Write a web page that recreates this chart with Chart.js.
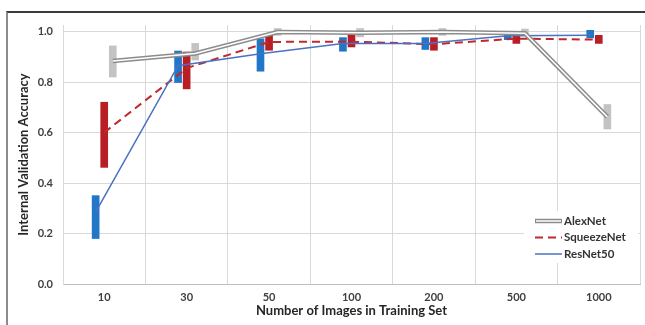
<!DOCTYPE html>
<html>
<head>
<meta charset="utf-8">
<script src="https://cdn.jsdelivr.net/npm/chart.js@4/dist/chart.umd.min.js"></script>
<style>
  html, body { margin: 0; padding: 0; background: #ffffff; overflow: hidden; }
  #wrap { position: relative; width: 645px; height: 325px; }
  #frame { position: absolute; left: 6px; top: 11px; width: 660px; height: 340px;
           border-top: 2px solid #3a3a3a; border-left: 2px solid #8c8c8c; }
  canvas { position: absolute; left: 0; top: 0; }
</style>
</head>
<body>
<div id="wrap">
  <div id="frame"></div>
  <canvas id="c" width="645" height="325"></canvas>
</div>
<script>
const categories = ['10', '30', '50', '100', '200', '500', '1000'];

const resnetMean = [0.285, 0.865, 0.912, 0.953, 0.953, 0.983, 0.985];
const resnetLow  = [0.180, 0.798, 0.843, 0.922, 0.929, 0.968, 0.975];
const resnetHigh = [0.350, 0.923, 0.971, 0.976, 0.976, 0.998, 1.005];

const squeezeMean = [0.600, 0.855, 0.959, 0.960, 0.950, 0.972, 0.968];
const squeezeLow  = [0.462, 0.773, 0.926, 0.939, 0.926, 0.953, 0.953];
const squeezeHigh = [0.720, 0.919, 0.990, 0.988, 0.976, 0.989, 0.985];

const alexMean = [0.883, 0.913, 0.998, 0.995, 0.998, 0.993, 0.662];
const alexLow  = [0.820, 0.887, 0.985, 0.979, 0.985, 0.985, 0.614];
const alexHigh = [0.943, 0.953, 1.012, 1.012, 1.012, 1.010, 0.711];

const yTicks = [0, 0.2, 0.4, 0.6, 0.8, 1.0];
const legendNames = ['AlexNet', 'SqueezeNet', 'ResNet50'];

// series slot offset within a category (in category units)
const SLOT = 0.104;

const ranges = (lo, hi, k) => lo.map((v, i) => ({ x: i + (k - 1) * SLOT, y: [v, hi[i]] }));
const pts = (arr, k) => arr.map((v, i) => ({ x: i + (k - 1) * SLOT, y: v }));

const FONT = "Lato, 'Open Sans', 'Liberation Sans', sans-serif";

const legendPlugin = {
  id: 'customLegend',
  afterDraw(chart) {
    const ctx = chart.ctx;
    ctx.save();
    const bx = 524, by = 211, bw = 114, bh = 52;
    ctx.fillStyle = '#ffffff';
    ctx.fillRect(bx, by, bw, bh);
    const rows = [221, 237.5, 254];
    const x0 = 535, x1 = 562;
    ctx.lineCap = 'butt';
    ctx.strokeStyle = '#8c8c8c'; ctx.lineWidth = 4.5;
    ctx.beginPath(); ctx.moveTo(x0, rows[0]); ctx.lineTo(x1, rows[0]); ctx.stroke();
    ctx.strokeStyle = '#ffffff'; ctx.lineWidth = 1.5;
    ctx.beginPath(); ctx.moveTo(x0 + 1, rows[0]); ctx.lineTo(x1 - 1, rows[0]); ctx.stroke();
    ctx.strokeStyle = '#c0282e'; ctx.lineWidth = 2; ctx.setLineDash([8, 5]);
    ctx.beginPath(); ctx.moveTo(x0, rows[1]); ctx.lineTo(x1, rows[1]); ctx.stroke();
    ctx.setLineDash([]);
    ctx.strokeStyle = '#4a72c0'; ctx.lineWidth = 1.5;
    ctx.beginPath(); ctx.moveTo(x0, rows[2]); ctx.lineTo(x1, rows[2]); ctx.stroke();
    ctx.fillStyle = '#333333';
    ctx.font = "bold 11.5px " + FONT;
    ctx.textBaseline = 'middle';
    ctx.textAlign = 'left';
    legendNames.forEach((n, i) => ctx.fillText(n, x1 + 2, rows[i]));
    ctx.restore();
  }
};

const barCommon = { type: 'bar', xAxisID: 'xl', grouped: false, barThickness: 7, borderWidth: 0, order: 2 };
const lineCommon = { type: 'line', xAxisID: 'xl', pointRadius: 0, tension: 0 };

new Chart(document.getElementById('c'), {
  type: 'bar',
  data: {
    labels: categories,
    datasets: [
      Object.assign({ label: 'ResNet50 range', data: ranges(resnetLow, resnetHigh, 0), backgroundColor: '#2176c7' }, barCommon),
      Object.assign({ label: 'SqueezeNet range', data: ranges(squeezeLow, squeezeHigh, 1), backgroundColor: '#b81e24' }, barCommon),
      Object.assign({ label: 'AlexNet range', data: ranges(alexLow, alexHigh, 2), backgroundColor: '#c3c3c3' }, barCommon),
      Object.assign({ label: 'ResNet50', data: pts(resnetMean, 0), borderColor: '#4a72c0', borderWidth: 1.5, order: 1 }, lineCommon),
      Object.assign({ label: 'SqueezeNet', data: pts(squeezeMean, 1), borderColor: '#c0282e', borderWidth: 2, borderDash: [8, 5], order: 1 }, lineCommon),
      Object.assign({ label: 'AlexNet', data: pts(alexMean, 2), borderColor: '#8c8c8c', borderWidth: 4.5, order: 0.5 }, lineCommon),
      Object.assign({ label: 'AlexNet inner', data: pts(alexMean, 2), borderColor: '#ffffff', borderWidth: 1.5, order: 0 }, lineCommon)
    ]
  },
  options: {
    responsive: false,
    animation: false,
    devicePixelRatio: 1,
    layout: { padding: { left: 12, top: 25, right: 5, bottom: 0 } },
    plugins: { legend: { display: false }, tooltip: { enabled: false } },
    scales: {
      x: {
        type: 'category',
        offset: true,
        grid: { offset: true, color: '#d9d9d9', drawTicks: false, lineWidth: 1 },
        border: { color: '#bfbfbf', width: 1 },
        ticks: { color: '#404040', font: { family: FONT, size: 11, weight: 'bold' }, padding: 7 },
        title: { display: true, text: 'Number of Images in Training Set', color: '#262626',
                 font: { family: FONT, size: 13, weight: 'bold' }, padding: { top: 0, bottom: 6 } },
        afterFit(s) { s.height = 41; }
      },
      xl: { type: 'linear', display: false, offset: false, min: -0.5, max: 6.5, grid: { offset: false } },
      y: {
        min: 0, max: 1.026,
        grid: { color: '#d9d9d9', drawTicks: false },
        border: { color: '#d9d9d9' },
        ticks: { stepSize: 0.2, includeBounds: false, padding: 10, color: '#404040',
                 font: { family: FONT, size: 11, weight: 'bold' },
                 callback: v => Number(v).toFixed(1) },
        afterBuildTicks(s) { s.ticks = yTicks.map(v => ({ value: v })); },
        title: { display: true, text: 'Internal Validation Accuracy', color: '#262626',
                 font: { family: FONT, size: 13, weight: 'bold' }, padding: { top: 4, bottom: 0 } },
        afterFit(s) { s.width = 51; }
      }
    }
  },
  plugins: [legendPlugin]
});
</script>
</body>
</html>
